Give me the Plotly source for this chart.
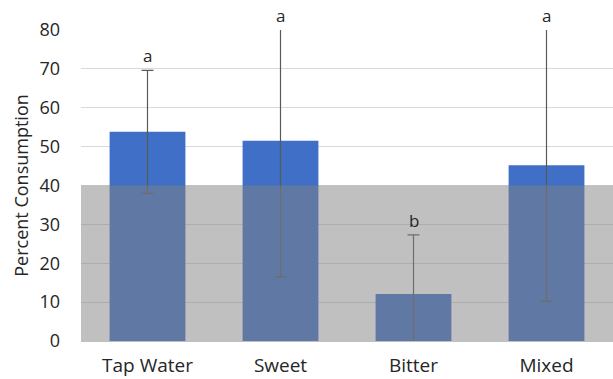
import plotly.graph_objects as go

categories = ["Tap Water", "Sweet", "Bitter", "Mixed"]
means = [53.8, 51.5, 12.1, 45.2]
errors = [15.8, 35.0, 15.2, 35.0]
letters = ["a", "a", "b", "a"]
y_max = 80
band_top = 40

fig = go.Figure()
fig.add_trace(go.Bar(
    x=categories, y=means,
    marker=dict(color="#3F6FC6", line=dict(width=0)),
    width=0.57,
    error_y=dict(type="data", array=errors, visible=True, color="#595959",
                 thickness=1.2, width=6),
    showlegend=False,
))

for c, m, e, l in zip(categories, means, errors, letters):
    fig.add_annotation(x=c, y=min(m + e, y_max), text=l, showarrow=False,
                       yanchor="bottom", yshift=1,
                       font=dict(size=17, color="#262626"))

fig.add_shape(type="rect", xref="paper", yref="y", x0=0, x1=1, y0=0, y1=band_top,
              fillcolor="rgba(129,129,129,0.5)", line=dict(width=0), layer="above")

fig.update_layout(
    width=613, height=379,
    margin=dict(l=81, r=0, t=30, b=38),
    paper_bgcolor="white", plot_bgcolor="white",
    font=dict(family="Open Sans, Noto Sans, sans-serif", color="#262626"),
    bargap=0.43,
)
fig.update_yaxes(range=[0, y_max], dtick=10, showgrid=True, gridcolor="#D9D9D9",
                 gridwidth=1, zeroline=False, showline=False, automargin=False,
                 tickfont=dict(size=18), ticks="", ticklabelstandoff=20,
                 title=dict(text="Percent Consumption", font=dict(size=18), standoff=6))
fig.update_xaxes(showline=True, linecolor="#BFBFBF", linewidth=1, ticks="",
                 automargin=False, tickfont=dict(size=19), ticklabelstandoff=7)

fig.write_html("out.html", post_script="document.body.style.margin='0';",
               config={"displayModeBar": False})
